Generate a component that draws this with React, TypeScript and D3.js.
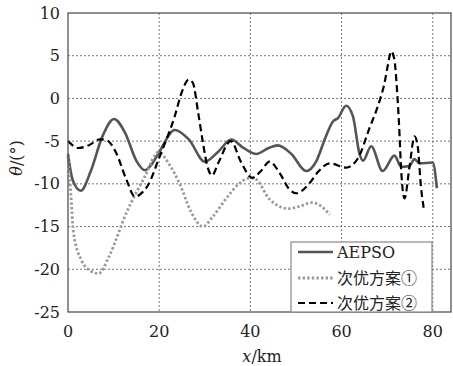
import React from "react";
import * as d3 from "d3";

const xTicks = [0, 20, 40, 60, 80];
const yTicks = [10, 5, 0, -5, -10, -15, -20, -25];
const legendLabels = ["AEPSO", "次优方案①", "次优方案②"];

const aepsoX = [0, 1, 2.8, 5, 7.5, 10.1, 12.5, 15, 16.9, 18.5, 20.1, 23.4, 26.5, 30, 33, 35.8, 38.5, 41.3, 44, 46, 49, 52.2, 54.5, 56.3, 58.1, 59.2, 61, 62.5, 63.9, 64.7, 66.5, 69, 71.6, 73.1, 74.9, 76, 77.1, 80, 80.9];
const aepsoY = [-6.5, -9.5, -10.8, -8.5, -4.5, -2.4, -4, -7.3, -8.4, -7.6, -6.2, -3.7, -4.8, -7.4, -6.2, -4.8, -5.8, -6.5, -5.8, -5.5, -6.5, -8.5, -7.3, -4.8, -2.7, -2.3, -0.85, -2.1, -6.4, -7.3, -5.6, -8.5, -6.7, -8, -7.9, -7.1, -7.6, -7.5, -10.5];

const opt1X = [0, 0.6, 1.2, 3, 5, 6.7, 9, 12.8, 16.9, 19.8, 22.3, 24.5, 27, 29.6, 31.8, 35, 37.7, 40, 41.3, 44.2, 48.4, 51, 53.4, 55.5, 57.4];
const opt1Y = [-6.8, -11, -15.7, -19, -20.2, -20.5, -18.5, -13.4, -9.1, -6.3, -7.8, -10, -13.3, -15, -13.8, -11.5, -9.9, -9.3, -9.5, -11.8, -12.9, -12.6, -12.2, -12.6, -13.6];

const opt2X = [0, 2.3, 4.5, 7, 8.5, 10.5, 12.8, 14.7, 16.3, 17.6, 20.1, 23.4, 25, 26.5, 27.4, 28.5, 29.6, 30.5, 31.6, 33, 35.7, 38, 40.4, 42.3, 44.2, 46.5, 48.5, 50.1, 53, 55, 57.4, 61, 63.6, 66.1, 68.3, 69.5, 70.1, 70.9, 71.6, 72, 72.6, 73.1, 73.8, 74.9, 76, 76.7, 77.4, 78];
const opt2Y = [-5, -5.8, -5.5, -4.8, -4.9, -6.3, -9.5, -11.5, -11, -10.1, -6.8, -2.1, 0.8, 2.2, 1.8, -1.5, -5.2, -7.8, -9, -7.5, -5, -7.5, -9.3, -8.5, -7.4, -8.8, -10.6, -11.1, -9.9, -8.5, -7.6, -8.1, -7, -3.5, -0.35, 2, 3.75, 5.5, 4.5, 2.2, -3, -8.7, -11.7, -8, -4.45, -5.6, -10.3, -12.8];

const W = 453, H = 366;
const L = 68, R = 451, T = 13, B = 312;

export default function App() {
  const x = d3.scaleLinear().domain([0, 84]).range([L, R]);
  const y = d3.scaleLinear().domain([-25, 10]).range([B, T]);
  const line = d3
    .line<[number, number]>()
    .x((d) => x(d[0]))
    .y((d) => y(d[1]))
    .curve(d3.curveMonotoneX);
  const zip = (xs: number[], ys: number[]) => xs.map((v, i) => [v, ys[i]] as [number, number]);

  const series = [
    { d: zip(aepsoX, aepsoY), stroke: "#555", width: 2.6, dash: "none" },
    { d: zip(opt1X, opt1Y), stroke: "#9a9a9a", width: 2.8, dash: "2.4,2.2" },
    { d: zip(opt2X, opt2Y), stroke: "#000", width: 2.2, dash: "7,4" },
  ];

  const serif = "DejaVu Serif";
  const cjk = "DejaVu Serif, Noto Sans CJK SC";

  const lgX = 291, lgY = 242, lgW = 141, lgH = 70;
  const rowY = [252, 278, 303];

  return (
    <svg width={W} height={H} style={{ position: "absolute", left: 0, top: 0, background: "#fff" }}>
      <rect x={0} y={0} width={W} height={H} fill="#fff" />
      {yTicks.slice(1, -1).map((t) => (
        <line key={"gy" + t} x1={L} x2={R} y1={y(t)} y2={y(t)} stroke="#666" strokeWidth={0.9} strokeDasharray="2,2" />
      ))}
      {xTicks.slice(1).map((t) => (
        <line key={"gx" + t} x1={x(t)} x2={x(t)} y1={T} y2={B} stroke="#666" strokeWidth={0.9} strokeDasharray="2,2" />
      ))}
      {series.map((s, i) => (
        <path key={i} d={line(s.d) || ""} fill="none" stroke={s.stroke} strokeWidth={s.width} strokeDasharray={s.dash} strokeLinejoin="round" />
      ))}
      <rect x={L} y={T} width={R - L} height={B - T} fill="none" stroke="#555" strokeWidth={1.3} />
      {yTicks.map((t) => (
        <text key={"yl" + t} x={60} y={y(t)} dy="0.35em" textAnchor="end" fontFamily={serif} fontSize={16} fill="#222">
          {t}
        </text>
      ))}
      {xTicks.map((t) => (
        <text key={"xl" + t} x={x(t)} y={337} textAnchor="middle" fontFamily={serif} fontSize={16} fill="#222">
          {t}
        </text>
      ))}
      <text x={262} y={362} textAnchor="middle" fontFamily={serif} fontSize={16} fill="#222">
        <tspan fontStyle="italic">x</tspan>/km
      </text>
      <text transform="translate(22,158) rotate(-90)" textAnchor="middle" fontFamily={serif} fontSize={16} fill="#222">
        <tspan fontStyle="italic">θ</tspan>/(°)
      </text>
      <rect x={lgX} y={lgY} width={lgW} height={lgH} fill="#fff" stroke="#888" strokeWidth={1.2} />
      {series.map((s, i) => (
        <g key={"lg" + i}>
          <line x1={298} x2={333} y1={rowY[i]} y2={rowY[i]} stroke={s.stroke} strokeWidth={s.width} strokeDasharray={s.dash} />
          <text x={337} y={rowY[i]} dy="0.36em" fontFamily={cjk} fontSize={16} fill="#222">
            {legendLabels[i]}
          </text>
        </g>
      ))}
    </svg>
  );
}
